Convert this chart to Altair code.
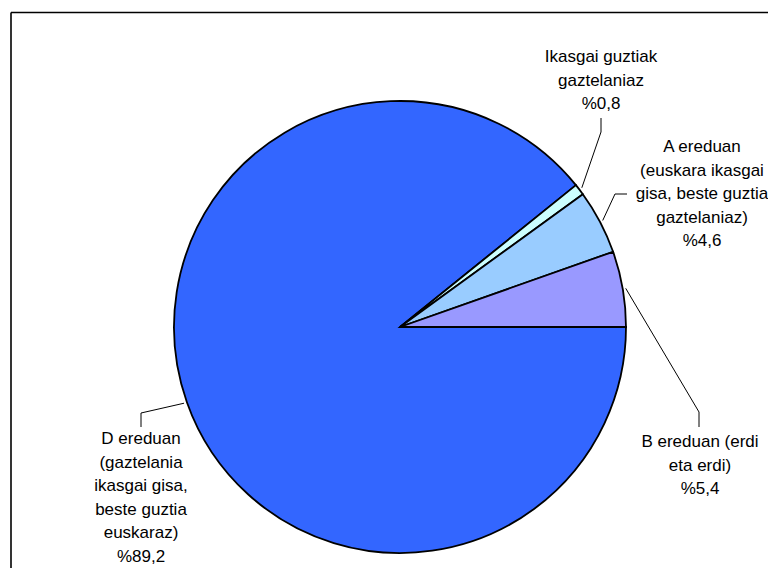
import math
import altair as alt
import pandas as pd

# ---- data -------------------------------------------------------------
categories = ["D ereduan", "Ikasgai guztiak", "A ereduan", "B ereduan"]
descriptions = [
    ["D ereduan", "(gaztelania", "ikasgai gisa,", "beste guztia", "euskaraz)"],
    ["Ikasgai guztiak", "gaztelaniaz"],
    ["A ereduan", "(euskara ikasgai", "gisa, beste guztia", "gaztelaniaz)"],
    ["B ereduan (erdi", "eta erdi)"],
]
shares = [89.2, 0.8, 4.6, 5.4]
colors = ["#3366FF", "#CCFFFF", "#99CCFF", "#9999FF"]

# ---- layout (pixel positions inside the plot area) ---------------------
W, H = 760, 560
CX, CY, R = 392, 319, 226
label_x = [133, 593, 694, 692]
label_y = [436, 54, 144, 439]          # baseline of first text line
elbow1 = [(133, 405), (593, 124), (607, 186), (691, 404)]
elbow2 = [(133, 419), (593, 110), (619, 186), (691, 419)]

labels = []
for d, v in zip(descriptions, shares):
    pct = "%" + f"{v:.1f}".replace(".", ",")
    labels.append("\n".join(d + [pct]))

df = pd.DataFrame({
    "category": categories,
    "share": shares,
    "ord": list(range(len(categories))),
    "label": labels,
    "lx": label_x,
    "ly": label_y,
    "e1x": [p[0] for p in elbow1],
    "e1y": [p[1] for p in elbow1],
    "e2x": [p[0] for p in elbow2],
    "e2y": [p[1] for p in elbow2],
})

base = alt.Chart(df)

pie = base.mark_arc(
    x=CX, y=CY, outerRadius=R, stroke="black", strokeWidth=1.8
).encode(
    theta=alt.Theta("share:Q", stack=True,
                    scale=alt.Scale(range=[math.pi / 2, math.pi / 2 + 2 * math.pi])),
    order=alt.Order("ord:Q"),
    color=alt.Color("category:N",
                    scale=alt.Scale(domain=categories, range=colors),
                    legend=None),
)

leader_base = base.transform_joinaggregate(
    total="sum(share)"
).transform_window(
    cum="sum(share)", sort=[alt.SortField("ord")]
).transform_calculate(
    mid="PI/2 + 2*PI*(datum.cum - datum.share/2)/datum.total"
).transform_calculate(
    ex=f"{CX} + {R + 3}*sin(datum.mid)",
    ey=f"{CY} - {R + 3}*cos(datum.mid)",
)

leader1 = leader_base.mark_rule(color="black", strokeWidth=1).encode(
    x=alt.X("ex:Q", scale=None, axis=None),
    y=alt.Y("ey:Q", scale=None, axis=None),
    x2="e1x:Q",
    y2="e1y:Q",
)
leader2 = base.mark_rule(color="black", strokeWidth=1).encode(
    x=alt.X("e1x:Q", scale=None, axis=None),
    y=alt.Y("e1y:Q", scale=None, axis=None),
    x2="e2x:Q",
    y2="e2y:Q",
)

text = base.mark_text(
    font="Liberation Sans", fontSize=17, lineBreak="\n", lineHeight=23.6,
    align="center", baseline="alphabetic", color="black",
).encode(
    x=alt.X("lx:Q", scale=None, axis=None),
    y=alt.Y("ly:Q", scale=None, axis=None),
    text="label:N",
)

frame_df = pd.DataFrame({"a": [0]})
top_line = alt.Chart(frame_df).mark_rule(color="black", strokeWidth=1.6).encode(
    x=alt.value(3), x2=alt.value(W + 20), y=alt.value(4.5), y2=alt.value(4.5)
)
left_line = alt.Chart(frame_df).mark_rule(color="black", strokeWidth=1.6).encode(
    x=alt.value(3), x2=alt.value(3), y=alt.value(4.5), y2=alt.value(H + 20)
)

chart = alt.layer(pie, leader1, leader2, text, top_line, left_line).properties(
    width=W, height=H, padding=0, autosize=alt.AutoSizeParams(type="none"),
    background="white",
).configure_view(stroke=None)

chart.save("out.html", embed_options={"renderer": "svg", "actions": False})
